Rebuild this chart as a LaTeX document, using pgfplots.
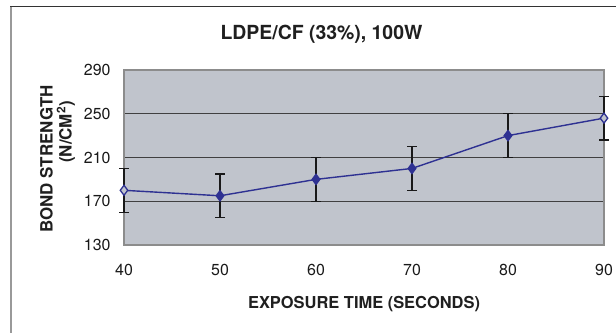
\documentclass[border=0pt]{standalone}
\usepackage{pgfplots}
\pgfplotsset{compat=1.18}
\usepackage{pgfplotstable}
\usepackage{fontspec}
\setmainfont{TeX Gyre Heros}
\definecolor{bg}{HTML}{C0C4CC}
\definecolor{ser}{HTML}{2E3192}
\pgfplotstableread{
x y e
40 180 20
50 175 20
60 190 20
70 200 20
80 230 20
90 246 20
}\datatable
\begin{document}
\begin{tikzpicture}
\useasboundingbox (0,0) rectangle (616bp,333bp);
\draw[black!40, line width=2bp] (11bp,-5bp) -- (11bp,326bp);
\draw[black!80, line width=1bp] (10bp,326bp) -- (620bp,326bp);
\begin{axis}[at={(124bp,88bp)}, anchor=south west, scale only axis,
  width=480bp, height=175bp,
  xmin=40, xmax=90, ymin=130, ymax=290,
  xtick={40,50,...,90}, ytick={130,170,210,250,290},
  axis background/.style={fill=bg},
  axis line style={draw=black!45, line width=1.5bp},
  ymajorgrids, grid style={draw=black!75, line width=0.8bp},
  major tick length=0pt,
  /pgf/number format/assume math mode=true,
  tick label style={font=\fontsize{16}{18}\selectfont, text=black!90},
  xticklabel style={yshift=-16bp},
  yticklabel style={xshift=-10bp},
  clip=false]
\addplot[color=ser, line width=1.4bp, mark=diamond*, mark size=5bp,
  mark indices={2,3,4,5}, mark options={fill=ser},
  error bars/.cd, y dir=both, y explicit,
  error bar style={black!90, line width=1.3bp},
  error mark options={rotate=90, mark size=5bp, line width=1.3bp, black!90}]
  table[x=x, y=y, y error=e]{\datatable};
\addplot[draw=none, mark=diamond*, mark size=5bp, mark indices={1,6},
  mark options={draw=ser, fill=bg, line width=1.3bp}]
  table[x=x, y=y]{\datatable};
\end{axis}
\node[font=\fontsize{19.5}{22}\selectfont\bfseries, text=black!88] at (321.5bp,298.5bp) {LDPE/CF (33\%), 100W};
\node[font=\fontsize{16.5}{19}\selectfont\bfseries, text=black!88] at (364bp,28.5bp) {EXPOSURE TIME (SECONDS)};
\node[font=\fontsize{17}{20}\selectfont\bfseries, text=black!88, rotate=90] at (46.5bp,174bp) {BOND STRENGTH};
\node[font=\fontsize{17}{20}\selectfont\bfseries, text=black!88, rotate=90] at (66bp,201bp) {(N/CM\textsuperscript{2})};
\end{tikzpicture}
\end{document}
